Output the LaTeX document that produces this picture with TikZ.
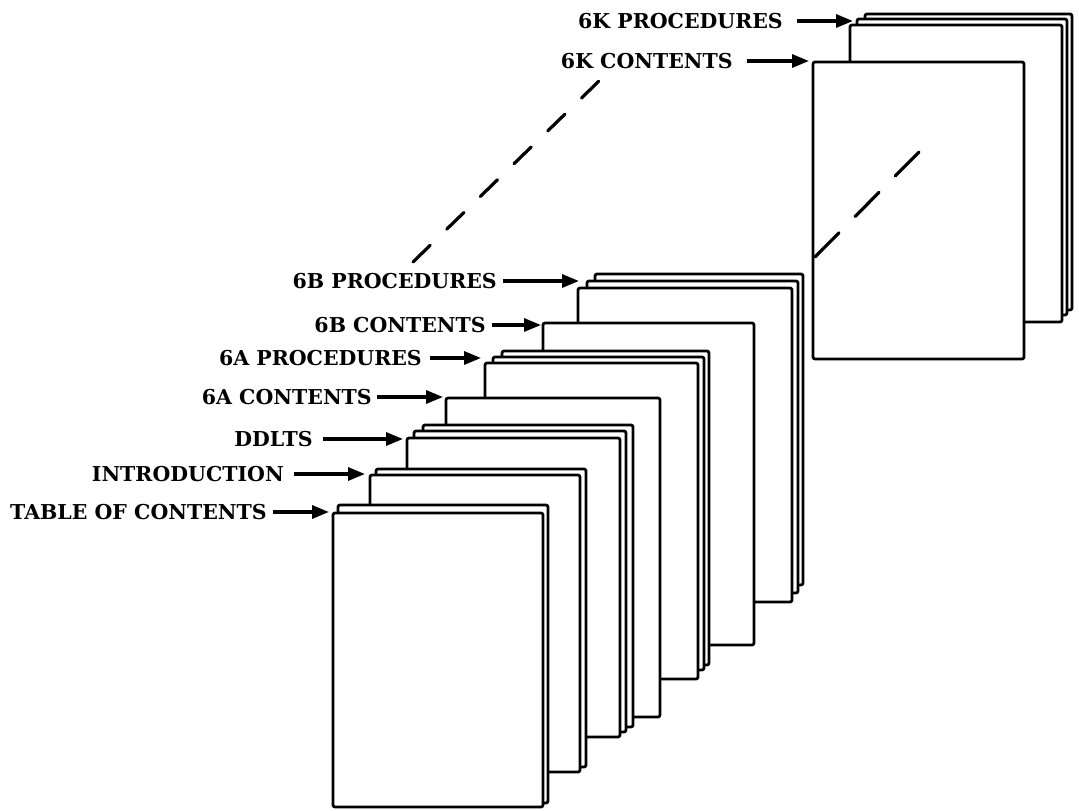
\documentclass[tikz,border=0pt]{standalone}
\usepackage{fontspec}
\setmainfont{DejaVu Serif}
\usetikzlibrary{arrows.meta}
\tikzset{
  sheet/.style={draw=black, fill=white, line width=2.8pt, rounded corners=2pt, line join=round},
  lbl/.style={font=\fontsize{20.5}{24}\selectfont\bfseries, inner sep=0pt, anchor=east},
  ptr/.style={line width=3.2pt, -{Triangle[length=17pt,width=13pt]}},
  gapline/.style={line width=3.2pt, line cap=round}
}
\begin{document}
\begin{tikzpicture}[x=1pt,y=-1pt]
\useasboundingbox (0,0) rectangle (1079,811);
% ---- 6K stack ----
\draw[sheet] (865,14) rectangle (1072,310);
\draw[sheet] (857,19) rectangle (1067,315);
\draw[sheet] (850,25) rectangle (1062,322);
\draw[sheet] (813,62) rectangle (1024,359);
% ---- main stack, back to front ----
% 6B procedures
\draw[sheet] (595,274) rectangle (803,585);
\draw[sheet] (587,281) rectangle (798,593);
\draw[sheet] (578,288) rectangle (792,602);
% 6B contents
\draw[sheet] (543,323) rectangle (754,645);
% 6A procedures
\draw[sheet] (502,351) rectangle (709,665);
\draw[sheet] (493,357) rectangle (704,670);
\draw[sheet] (485,363) rectangle (698,679);
% 6A contents
\draw[sheet] (446,398) rectangle (660,717);
% DDLTS
\draw[sheet] (423,425) rectangle (633,727);
\draw[sheet] (414,431) rectangle (626,732);
\draw[sheet] (407,438) rectangle (620,737);
% Introduction
\draw[sheet] (376,469) rectangle (586,767);
\draw[sheet] (370,475) rectangle (580,772);
% Table of contents
\draw[sheet] (338,505) rectangle (548,803);
\draw[sheet] (333,513) rectangle (543,807);
% ---- dashed continuation lines ----
\coordinate (dA1) at (413,262);
\coordinate (dA2) at (599,81);
\coordinate (dB1) at (815,257);
\coordinate (dB2) at (919,152);
\draw[gapline, dash pattern=on 24pt off 23pt] (dA1) -- (dA2);
\draw[gapline, dash pattern=on 34pt off 23pt] (dB1) -- (dB2);
% ---- labels ----
\node[lbl] (lkp) at (783,21) {6K PROCEDURES};
\node[lbl] (lkc) at (733,61) {6K CONTENTS};
\node[lbl] (lbp) at (497,281) {6B PROCEDURES};
\node[lbl] (lbc) at (486,325) {6B CONTENTS};
\node[lbl] (lap) at (422,358) {6A PROCEDURES};
\node[lbl] (lac) at (372,397) {6A CONTENTS};
\node[lbl] (ldd) at (313,439) {DDLTS};
\node[lbl] (lin) at (284,474) {INTRODUCTION};
\node[lbl] (lto) at (267,512) {TABLE OF CONTENTS};
% ---- arrow targets ----
\coordinate (tkp) at (853,21);
\coordinate (tkc) at (809,61);
\coordinate (tbp) at (579,281);
\coordinate (tbc) at (541,325);
\coordinate (tap) at (481,358);
\coordinate (tac) at (443,397);
\coordinate (tdd) at (403,439);
\coordinate (tin) at (365,474);
\coordinate (tto) at (329,512);
% ---- arrows ----
\draw[ptr] ([xshift=14pt]lkp.east) -- (tkp);
\draw[ptr] ([xshift=14pt]lkc.east) -- (tkc);
\draw[ptr] ([xshift=6pt]lbp.east) -- (tbp);
\draw[ptr] ([xshift=6pt]lbc.east) -- (tbc);
\draw[ptr] ([xshift=8pt]lap.east) -- (tap);
\draw[ptr] ([xshift=5pt]lac.east) -- (tac);
\draw[ptr] ([xshift=10pt]ldd.east) -- (tdd);
\draw[ptr] ([xshift=10pt]lin.east) -- (tin);
\draw[ptr] ([xshift=6pt]lto.east) -- (tto);
\end{tikzpicture}
\end{document}
